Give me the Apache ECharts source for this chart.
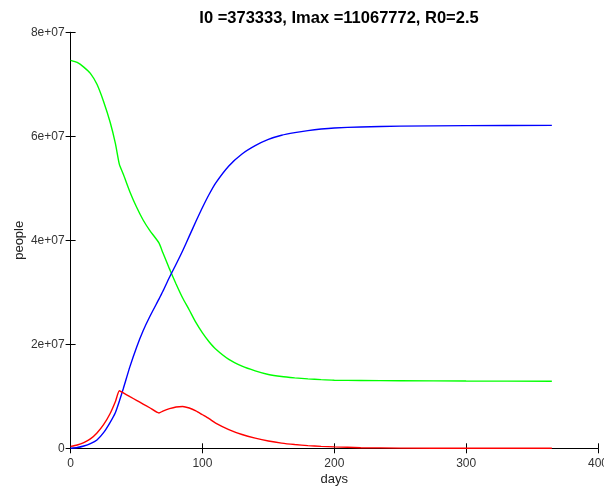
<!DOCTYPE html>
<html>
<head>
<meta charset="utf-8">
<script src="https://cdn.jsdelivr.net/npm/echarts@6/dist/echarts.min.js"></script>
<style>html,body{margin:0;padding:0;background:#fff;}#c{width:604px;height:489px;}</style>
</head>
<body>
<div id="c"></div>
<script>
const days = [0,5,10,15,20,25,30,34,37,40,45,50,55,60,67,70,75,80,85,90,95,100,105,110,120,130,140,150,160,170,180,190,200,220,250,300,365];
// susceptible (green)
const susceptible = [7.46e7,7.42e7,7.33e7,7.21e7,7.00e7,6.67e7,6.27e7,5.86e7,5.46e7,5.27e7,4.93e7,4.64e7,4.39e7,4.19e7,3.95e7,3.76e7,3.45e7,3.16e7,2.89e7,2.66e7,2.42e7,2.22e7,2.05e7,1.91e7,1.71e7,1.58e7,1.49e7,1.42e7,1.38e7,1.355e7,1.335e7,1.32e7,1.31e7,1.305e7,1.30e7,1.295e7,1.29e7];
// infected (red)
const infected = [0.37e6,0.64e6,1.1e6,1.8e6,2.95e6,4.55e6,6.7e6,9.0e6,11.07e6,10.65e6,9.93e6,9.22e6,8.51e6,7.80e6,6.80e6,7.15e6,7.62e6,7.95e6,8.05e6,7.75e6,7.2e6,6.45e6,5.7e6,4.85e6,3.6e6,2.65e6,1.95e6,1.4e6,1.0e6,0.73e6,0.52e6,0.37e6,0.27e6,0.12e6,0.04e6,0.005e6,0];
// recovered (blue)
const recovered = [0,0.15e6,0.45e6,0.9e6,1.6e6,3.0e6,5.0e6,6.9e6,9.1e6,11.5e6,15.7e6,19.4e6,22.6e6,25.3e6,28.7e6,30.2e6,32.9e6,35.4e6,38.0e6,40.8e6,43.6e6,46.3e6,48.8e6,51.0e6,54.3e6,56.6e6,58.2e6,59.4e6,60.2e6,60.7e6,61.1e6,61.4e6,61.6e6,61.8e6,61.95e6,62.05e6,62.1e6];
const yTicks = [0,2e7,4e7,6e7,8e7];
const titleText = 'I0 =373333, Imax =11067772, R0=2.5';

function pairs(arr){ return days.map((d,i)=>[d,arr[i]]); }
function fmtY(v){
  if (v === 0) return '0';
  const e = Math.floor(Math.log10(v));
  const m = v/Math.pow(10,e);
  return (Math.round(m*100)/100) + 'e+' + (e<10?'0':'') + e;
}
const font = 'Liberation Sans';
const chart = echarts.init(document.getElementById('c'), null, {renderer:'canvas'});
const axisLineStyle = {color:'#000', width:1};
chart.setOption({
  animation:false,
  backgroundColor:'#fff',
  title:{text:titleText,left:334,top:5,textAlign:'center',
    textStyle:{fontFamily:font,fontSize:16.5,fontWeight:'bold',color:'#000'}},
  grid:{left:70.6,right:6,top:32.3,bottom:40.7,containLabel:false,outerBoundsMode:'none'},
  xAxis:[
    {type:'value',min:0,max:400,interval:100,position:'bottom',
     name:'days',nameLocation:'middle',nameGap:25,nameMoveOverlap:false,
     nameTextStyle:{fontFamily:font,fontSize:13,color:'#222'},
     axisLine:{show:true,lineStyle:axisLineStyle},
     axisTick:{show:true,inside:true,length:5,lineStyle:axisLineStyle},
     axisLabel:{fontFamily:font,fontSize:12,color:'#333',margin:9},
     splitLine:{show:false}},
    {type:'value',min:0,max:400,interval:100,position:'top',
     axisLine:{show:true,lineStyle:axisLineStyle},
     axisTick:{show:true,inside:true,length:5,lineStyle:axisLineStyle},
     axisLabel:{show:false},splitLine:{show:false}}
  ],
  yAxis:[
    {type:'value',min:0,max:8e7,interval:2e7,position:'left',
     name:'people',nameLocation:'middle',nameGap:45,nameRotate:90,nameMoveOverlap:false,
     nameTextStyle:{fontFamily:font,fontSize:13,color:'#222'},
     axisLine:{show:true,lineStyle:axisLineStyle},
     axisTick:{show:true,inside:true,length:5,lineStyle:axisLineStyle},
     axisLabel:{fontFamily:font,fontSize:12,color:'#333',margin:6,
       formatter:(v)=> yTicks.includes(v)?fmtY(v):''},
     splitLine:{show:false}},
    {type:'value',min:0,max:8e7,interval:2e7,position:'right',
     axisLine:{show:true,lineStyle:axisLineStyle},
     axisTick:{show:true,inside:true,length:5,lineStyle:axisLineStyle},
     axisLabel:{show:false},splitLine:{show:false}}
  ],
  series:[
    {type:'line',data:pairs(susceptible),showSymbol:false,smooth:0.2,
     lineStyle:{color:'#00ff00',width:1.4},itemStyle:{color:'#00ff00'}},
    {type:'line',data:pairs(recovered),showSymbol:false,smooth:0.2,
     lineStyle:{color:'#0000ff',width:1.4},itemStyle:{color:'#0000ff'}},
    {type:'line',data:pairs(infected),showSymbol:false,smooth:0.2,
     lineStyle:{color:'#ff0000',width:1.4},itemStyle:{color:'#ff0000'}}
  ]
});
</script>
</body>
</html>
